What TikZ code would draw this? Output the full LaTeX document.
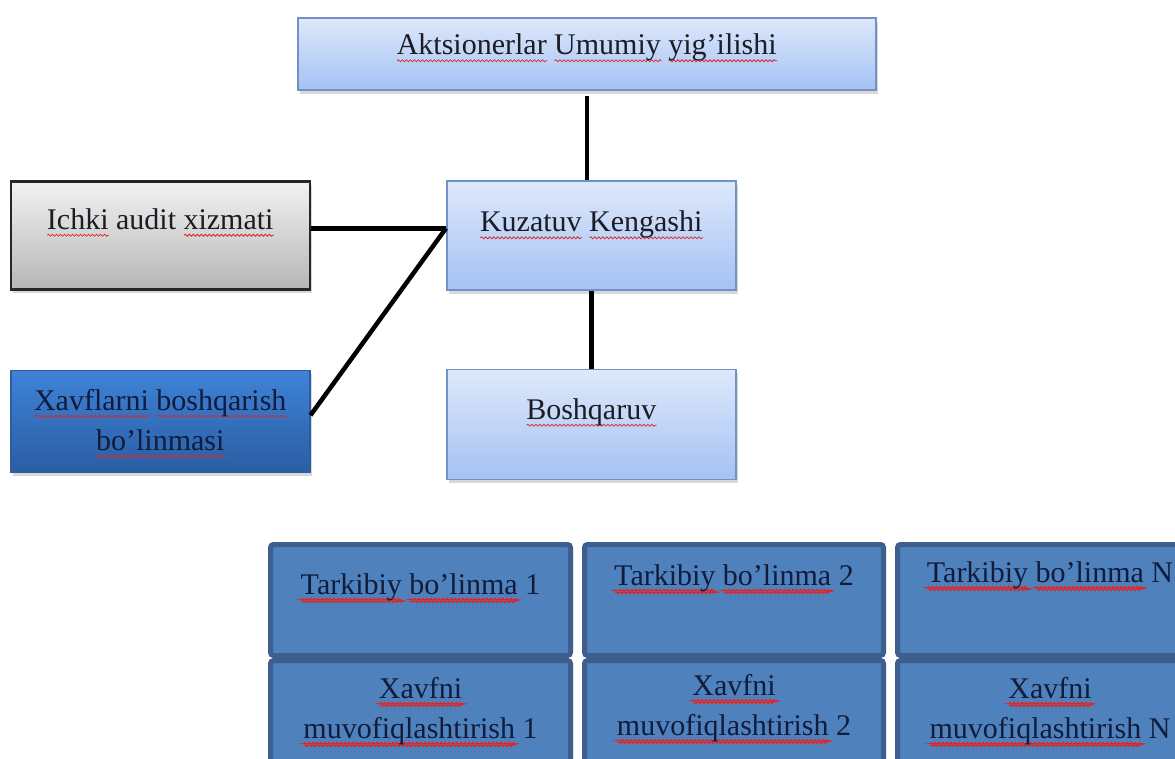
\documentclass[tikz,border=0pt]{standalone}
\usepackage{fontspec}
\setmainfont{Liberation Serif}
\usepackage{tikz}
\usetikzlibrary{positioning, shadows, decorations.pathmorphing}
\definecolor{paleTop}{RGB}{222, 232, 251}
\definecolor{paleBottom}{RGB}{164, 194, 243}
\definecolor{paleLine}{RGB}{112, 146, 196}
\definecolor{greyTop}{RGB}{242, 242, 242}
\definecolor{greyBottom}{RGB}{182, 182, 182}
\definecolor{greyLine}{RGB}{38, 38, 38}
\definecolor{riskTop}{RGB}{63, 131, 215}
\definecolor{riskBottom}{RGB}{42, 93, 163}
\definecolor{cellFill}{RGB}{79, 129, 189}
\definecolor{cellLine}{RGB}{62, 95, 142}
\definecolor{inkColor}{RGB}{28, 28, 36}
\definecolor{navyInk}{RGB}{16, 28, 60}
\definecolor{typoRed}{RGB}{220, 40, 40}
\tikzset{
    org_box/.style={
        rectangle,
        draw=paleLine,
        line width=1.5pt,
        top color=paleTop,
        bottom color=paleBottom,
        text=inkColor,
        font=\fontsize{30}{40}\selectfont,
        align=center,
        inner xsep=0pt,
        inner ysep=0pt,
        drop shadow={shadow xshift=2pt, shadow yshift=-4pt, opacity=0.3}
    },
    audit_box/.style={
        org_box,
        draw=greyLine,
        line width=2.5pt,
        top color=greyTop,
        bottom color=greyBottom
    },
    risk_box/.style={
        org_box,
        draw=riskBottom,
        top color=riskTop,
        bottom color=riskBottom,
        text=navyInk
    },
    unit_cell/.style={
        rectangle,
        rounded corners=3pt,
        draw=cellLine,
        line width=5pt,
        fill=cellFill,
        text=navyInk,
        font=\fontsize{30}{40}\selectfont,
        align=center,
        inner xsep=0pt,
        inner ysep=0pt
    },
    link_line/.style={
        draw=black,
        line width=4.5pt
    },
    typo_wave/.style={
        draw=typoRed,
        line width=0.8pt,
        decorate,
        decoration={snake, amplitude=1pt, segment length=4pt}
    }
}
\newsavebox\typoBox
\newcommand\typo[1]{%
    \sbox\typoBox{#1}%
    \rlap{\tikz[baseline=0pt]\draw[typo_wave] (0pt,-6pt) -- (\the\wd\typoBox,-6pt);}%
    \usebox\typoBox}

\begin{document}
\begin{tikzpicture}[x=1pt, y=-1pt]
    \path[use as bounding box, fill=white] (0,0) rectangle (1175,758);
    \clip (0,0) rectangle (1175,758);

    \node[org_box, anchor=north west, minimum width=578pt, text height=37pt, text depth=35pt]
        (aksiya) at (297,17) {\typo{Aktsionerlar} \typo{Umumiy} \typo{yig’ilishi}};
    \node[org_box, anchor=north west, minimum width=289pt, text height=51pt, text depth=58pt]
        (kuzatuv) at (446,180) {\typo{Kuzatuv} \typo{Kengashi}};
    \node[org_box, below=78pt of kuzatuv, minimum width=289pt, text height=50pt, text depth=60pt]
        (boshqaruv) {\typo{Boshqaruv}};
    \node[audit_box, left=135pt of kuzatuv, minimum width=299pt, text height=48pt, text depth=60pt]
        (ichki) {\typo{Ichki} audit \typo{xizmati}};
    \node[risk_box, below=79pt of ichki, minimum width=299pt, text height=80pt, text depth=22pt]
        (xavf) {\typo{Xavflarni} \typo{boshqarish}\\\typo{bo’linmasi}};

    % tarkibiy bo'linmalar
    \node[unit_cell, anchor=north west, minimum width=300pt, text height=50pt, text depth=61pt]
        (tarkib1) at (268,542) {\typo{Tarkibiy} \typo{bo’linma} 1};
    \node[unit_cell, right=9pt of tarkib1, minimum width=299pt, text height=41pt, text depth=70pt]
        (tarkib2) {\typo{Tarkibiy} \typo{bo’linma} 2};
    \node[unit_cell, right=9pt of tarkib2, minimum width=305pt, text height=38pt, text depth=73pt]
        (tarkibN) {\typo{Tarkibiy} \typo{bo’linma} N};
    \node[unit_cell, below=0pt of tarkib1, minimum width=300pt, text height=78pt, text depth=39pt]
        (muvof1) {\typo{Xavfni}\\\typo{muvofiqlashtirish} 1};
    \node[unit_cell, below=0pt of tarkib2, minimum width=299pt, text height=75pt, text depth=42pt]
        (muvof2) {\typo{Xavfni}\\\typo{muvofiqlashtirish} 2};
    \node[unit_cell, below=0pt of tarkibN, minimum width=305pt, text height=78pt, text depth=39pt]
        (muvofN) {\typo{Xavfni}\\\typo{muvofiqlashtirish} N};

    \coordinate (hub) at ([yshift=7pt]kuzatuv.west);

    \draw
    (aksiya.south) edge[link_line, shorten <=5pt] (aksiya.south |- kuzatuv.north)
    (kuzatuv.south) edge[link_line] (boshqaruv.north)
    (ichki.east |- hub) edge[link_line] (hub)
    ([yshift=6pt]xavf.east) edge[link_line] (hub);
\end{tikzpicture}
\end{document}
